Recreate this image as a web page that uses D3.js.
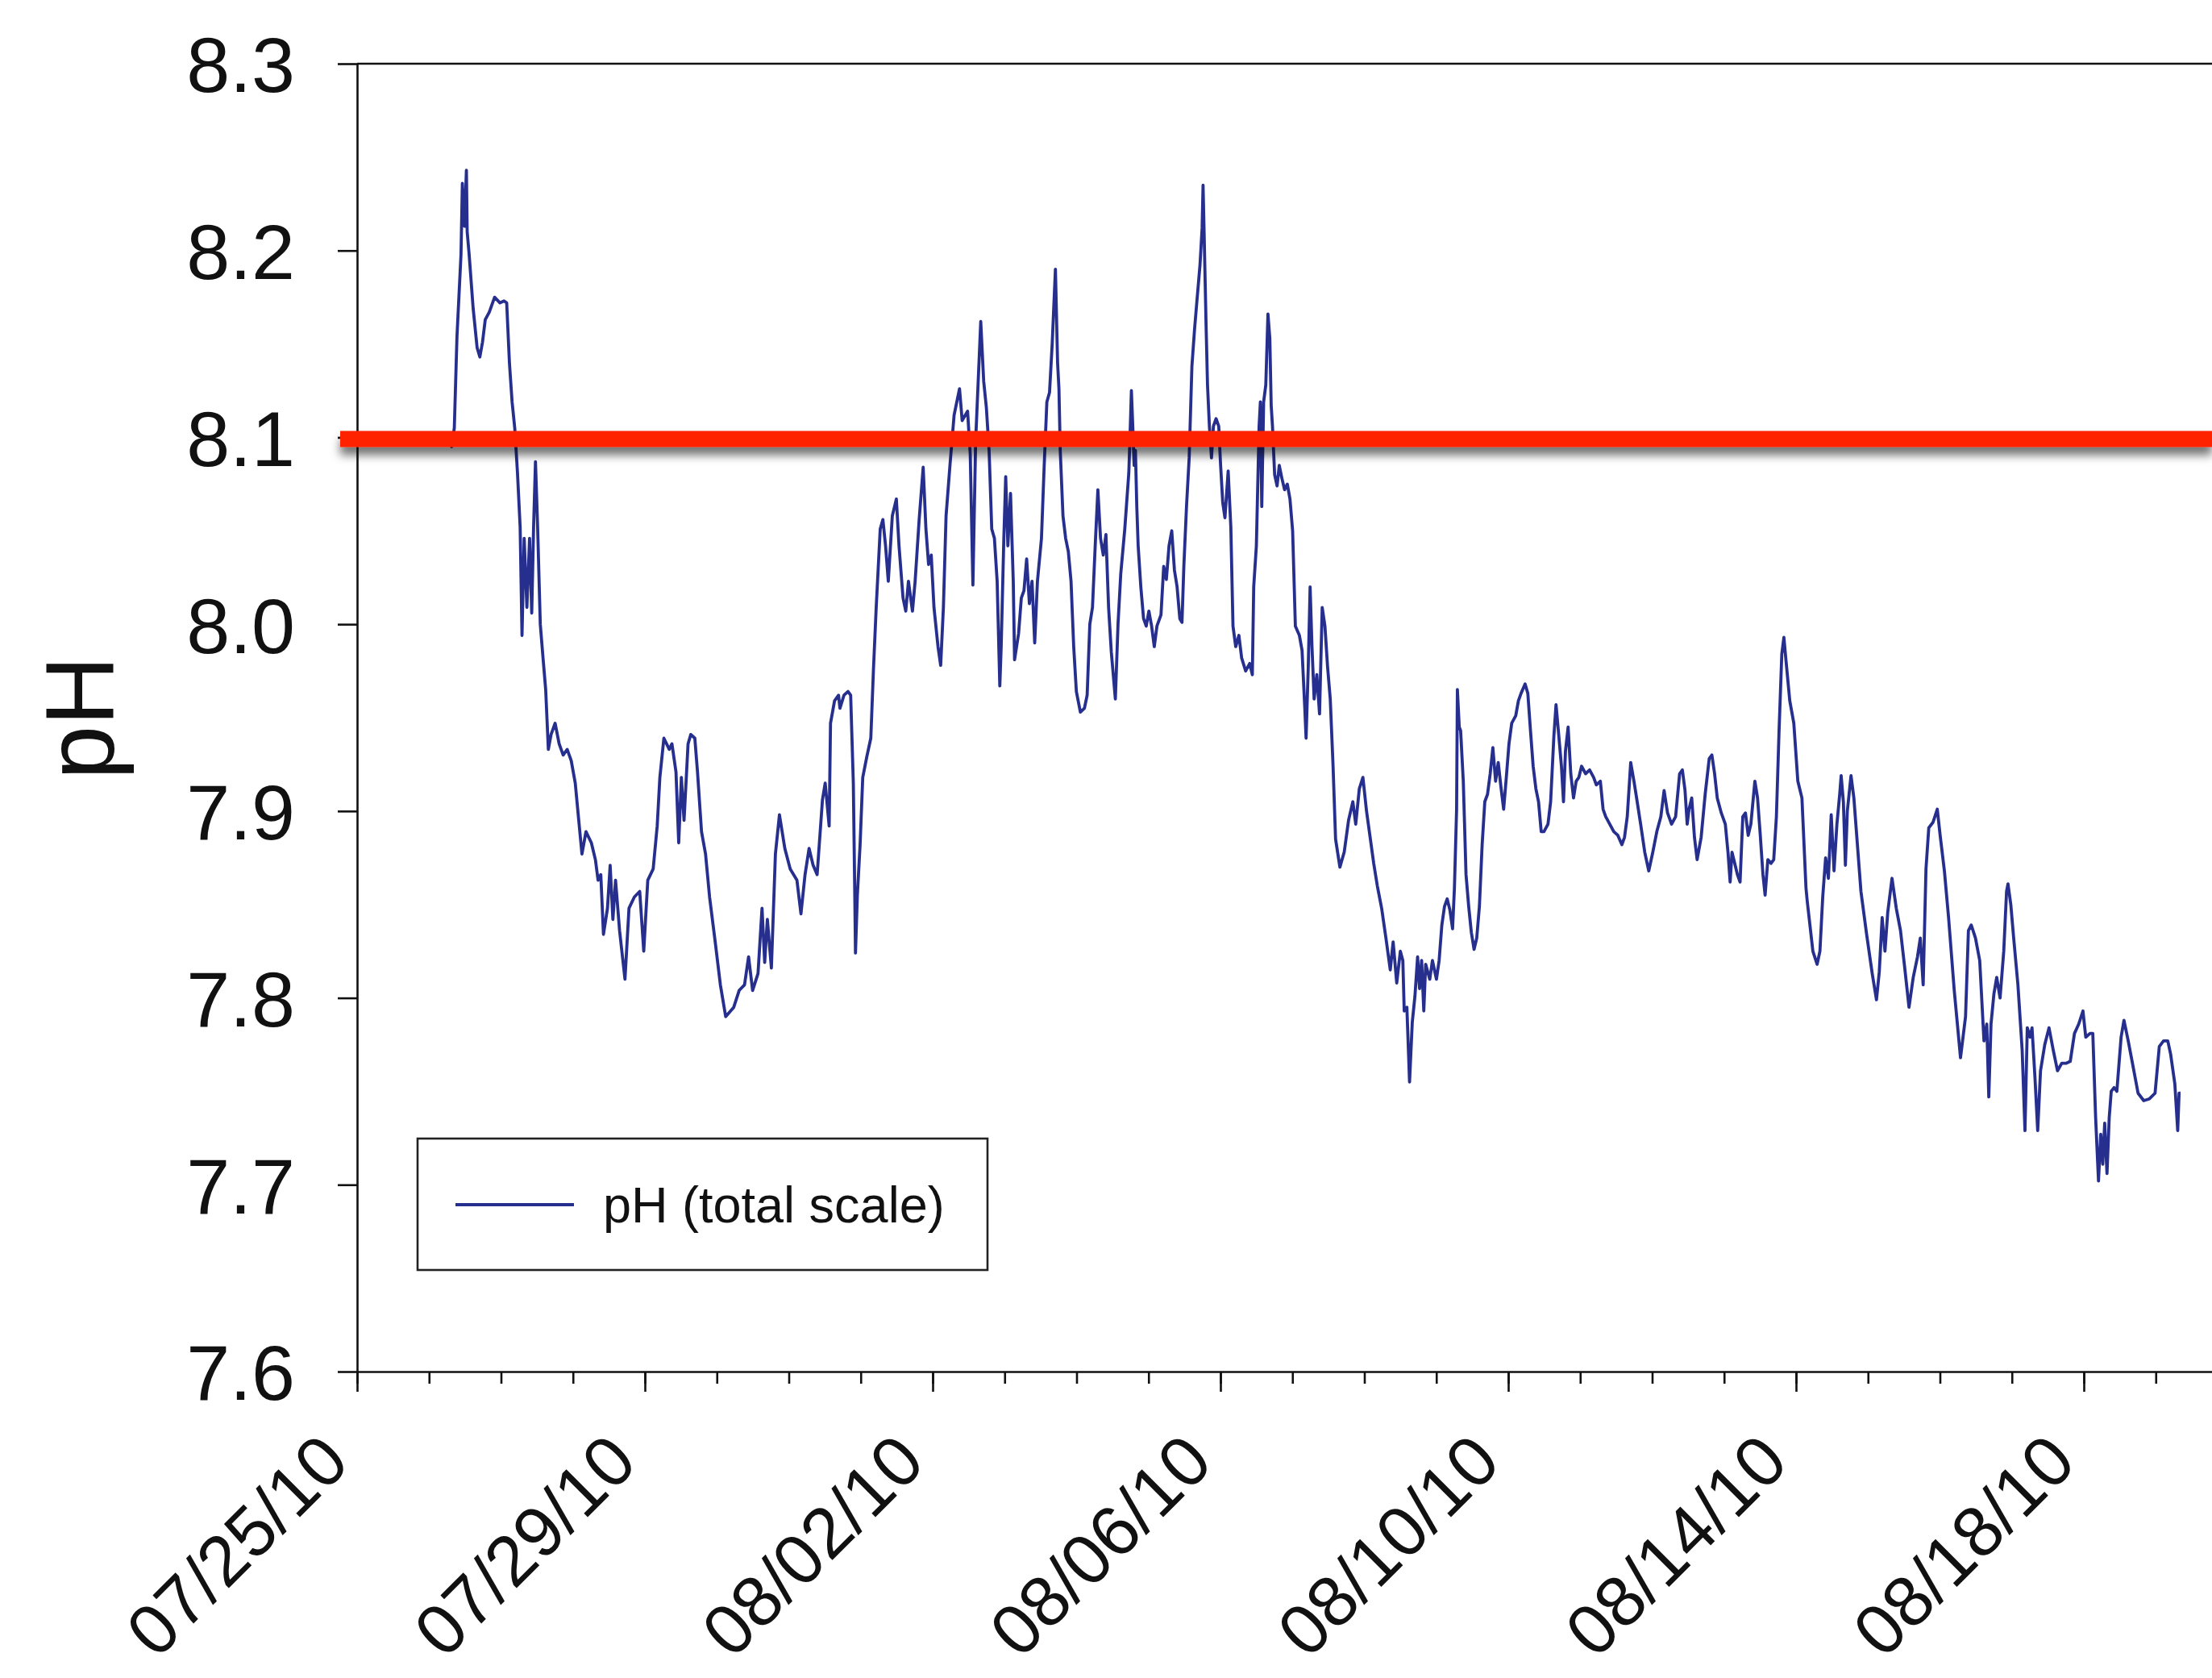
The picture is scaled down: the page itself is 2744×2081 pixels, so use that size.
<!DOCTYPE html>
<html>
<head>
<meta charset="utf-8">
<script src="https://cdn.jsdelivr.net/npm/d3@7"></script>
<style>
  html, body { margin: 0; padding: 0; background: #ffffff; }
  svg { display: block; font-family: "Liberation Sans", Arial, Helvetica, sans-serif; }
</style>
</head>
<body>
<svg id="chart" width="2744" height="2081"></svg>
<script>
// ---- data -------------------------------------------------------------
// Time axis: days after 07/25/2010 00:00 (UTC)
const startDate = Date.UTC(2010, 6, 25);
const axisEndDate = Date.UTC(2010, 7, 21);
const yTickValues = [7.6, 7.7, 7.8, 7.9, 8.0, 8.1, 8.2, 8.3];
const referencePH = 8.1;
const axisTitle = "pH";
const seriesLabel = "pH (total scale)";

// Sensor readings: offset in days and pH on the total scale
const dayOffsets = [
  1.258,1.314,1.351,1.388,1.444,1.463,1.493,1.519,1.530,1.557,
  1.613,1.668,1.706,1.743,1.781,1.837,1.911,1.986,2.042,2.079,
  2.117,2.154,2.191,2.229,2.266,2.292,2.322,2.360,2.397,2.427,
  2.453,2.479,2.509,2.546,2.584,2.621,2.658,2.696,2.752,2.808,
  2.864,2.920,2.976,3.032,3.088,3.125,3.181,3.256,3.312,3.349,
  3.387,3.424,3.480,3.517,3.555,3.592,3.648,3.723,3.779,3.853,
  3.928,3.984,4.040,4.115,4.171,4.208,4.264,4.339,4.376,4.432,
  4.470,4.507,4.544,4.600,4.638,4.694,4.731,4.787,4.843,4.899,
  4.974,5.049,5.123,5.235,5.310,5.385,5.441,5.497,5.572,5.628,
  5.665,5.702,5.758,5.814,5.870,5.945,6.020,6.113,6.169,6.226,
  6.282,6.338,6.394,6.468,6.506,6.561,6.580,6.636,6.692,
  6.711,6.767,6.823,6.860,6.897,6.916,6.927,6.953,6.991,7.028,
  7.084,7.140,7.177,7.215,7.271,7.308,7.345,7.383,7.439,7.495,
  7.532,7.588,7.626,7.663,7.719,7.756,7.812,7.868,7.906,7.943,
  7.980,8.018,8.074,8.111,8.149,8.186,8.242,8.298,8.373,8.410,
  8.485,8.522,8.559,8.597,8.668,8.709,8.746,8.784,8.821,8.858,
  8.896,8.933,8.952,8.989,9.015,9.045,9.082,9.120,9.138,9.194,
  9.232,9.269,9.306,9.344,9.381,9.418,9.456,9.512,9.549,9.587,
  9.624,9.661,9.706,9.736,9.755,9.773,9.811,9.848,9.885,9.923,
  9.960,9.997,10.053,10.109,10.147,10.184,10.221,10.259,10.296,10.333,
  10.371,10.408,10.445,10.483,10.539,10.576,10.614,10.670,10.726,
  10.744,10.762,10.781,10.800,10.818,10.837,10.856,10.893,10.931,10.968,
  11.005,11.043,11.080,11.117,11.173,11.211,11.248,11.285,11.323,11.360,
  11.397,11.435,11.465,11.491,11.528,11.565,11.603,11.640,11.677,11.715,
  11.745,11.758,11.778,11.800,11.820,11.846,11.875,11.902,11.939,11.976,
  12.002,12.032,12.062,12.107,12.144,12.174,12.212,12.256,12.294,12.350,
  12.406,12.443,12.462,12.499,12.537,12.555,12.574,12.600,12.630,12.660,
  12.686,12.705,12.723,12.753,12.787,12.817,12.854,12.891,12.929,12.966,
  13.003,13.041,13.097,13.134,13.171,13.190,13.220,13.246,13.272,13.302,
  13.339,13.377,13.414,13.452,13.489,13.526,13.564,
  13.600,13.660,13.720,13.780,13.840,13.880,13.930,13.980,14.030,14.080,
  14.130,14.180,14.240,14.300,14.360,14.400,14.450,14.500,
  14.535,14.554,14.591,14.628,14.666,14.703,14.740,14.767,14.796,14.826,
  14.852,14.909,14.946,15.002,15.039,15.077,15.114,15.151,15.189,15.226,
  15.252,15.282,15.293,15.319,15.338,15.375,15.413,15.450,15.487,15.525,
  15.562,15.599,15.637,15.674,15.712,15.749,15.786,15.824,15.861,15.898,
  15.936,15.973,16.010,16.048,16.104,16.141,16.178,16.234,16.272,16.309,
  16.346,16.384,16.421,16.458,16.496,16.552,16.589,16.634,16.664,16.701,
  16.739,16.768,16.795,16.832,16.869,16.907,16.944,16.981,17.019,17.075,
  17.131,17.187,17.224,17.280,17.318,17.355,17.411,17.467,17.523,17.579,
  17.616,17.654,17.702,17.747,17.784,17.840,17.897,17.953,18.009,18.065,
  18.121,18.166,18.214,18.270,18.326,18.382,18.420,18.457,18.487,18.513,
  18.550,18.588,18.625,18.681,18.737,18.793,18.830,18.868,18.905,18.961,
  19.017,19.054,19.084,19.110,19.148,19.185,19.222,19.260,19.297,19.335,
  19.372,19.428,19.465,19.503,19.540,19.570,19.608,19.652,19.690,19.727,
  19.764,19.802,19.831,19.857,19.913,19.969,20.025,20.082,20.138,
  20.155,20.234,20.293,20.332,20.371,20.411,20.450,20.489,20.528,20.568,
  20.607,20.627,20.658,20.686,20.713,20.764,20.804,20.843,20.902,20.981,
  21.059,21.118,21.157,21.197,21.236,21.275,21.334,21.393,21.452,21.511,
  21.570,21.629,21.688,21.727,21.767,21.806,21.845,21.904,21.963,22.003,
  22.062,22.120,22.199,22.286,22.356,22.396,22.435,22.494,22.553,22.612,
  22.651,22.679,22.710,22.750,22.789,22.836,22.887,22.926,22.946,22.985,
  23.025,23.084,23.143,23.182,23.214,23.253,23.280,23.320,23.359,23.398,
  23.457,23.516,23.575,23.634,23.693,23.752,23.811,23.870,23.929,23.988,
  24.027,24.086,24.125,24.164,24.204,24.235,24.263,24.290,24.322,24.353,
  24.381,24.420,24.459,24.518,24.558,24.617,24.676,24.754,24.833,24.912,
  24.990,25.049,25.108,25.167,25.206,25.265,25.305,25.324,25.344
];

const phValues = [
  8.103,8.095,8.105,8.154,8.198,8.236,8.213,8.243,8.210,8.198,
  8.169,8.148,8.143,8.151,8.163,8.167,8.175,8.172,8.173,8.172,
  8.140,8.119,8.105,8.081,8.052,7.994,8.046,8.009,8.046,8.006,
  8.052,8.087,8.052,8.000,7.982,7.965,7.933,7.941,7.947,7.936,
  7.930,7.933,7.927,7.915,7.892,7.877,7.889,7.883,7.874,7.863,
  7.866,7.834,7.848,7.871,7.842,7.863,7.836,7.810,7.848,7.854,
  7.857,7.825,7.863,7.869,7.892,7.918,7.939,7.933,7.936,7.921,
  7.883,7.918,7.895,7.936,7.941,7.939,7.921,7.889,7.877,7.854,
  7.831,7.807,7.790,7.795,7.804,7.807,7.822,7.804,7.813,7.848,
  7.819,7.842,7.816,7.877,7.898,7.880,7.869,7.863,7.845,7.866,
  7.880,7.871,7.866,7.906,7.915,7.892,7.947,7.959,7.962,
  7.955,7.962,7.964,7.962,7.915,7.859,7.824,7.855,7.882,7.918,
  7.929,7.939,7.976,8.009,8.051,8.056,8.042,8.023,8.058,8.067,
  8.042,8.014,8.007,8.023,8.007,8.023,8.056,8.084,8.051,8.032,
  8.037,8.009,7.988,7.978,8.009,8.058,8.086,8.112,8.126,8.109,
  8.114,8.091,8.021,8.098,8.162,8.130,8.116,8.093,8.051,8.046,
  8.023,7.967,7.988,8.046,8.079,8.042,8.070,8.023,7.981,7.995,
  8.014,8.018,8.035,8.011,8.023,7.990,8.023,8.046,8.084,8.119,
  8.124,8.150,8.190,8.140,8.126,8.093,8.058,8.046,8.039,8.023,
  7.988,7.964,7.953,7.955,7.962,8.000,8.009,8.042,8.072,8.046,
  8.037,8.048,8.009,7.985,7.960,8.000,8.027,8.051,8.081,
  8.102,8.125,8.106,8.085,8.093,8.063,8.042,8.020,8.003,7.999,
  8.007,7.999,7.988,7.999,8.005,8.031,8.024,8.042,8.050,8.029,
  8.020,8.003,8.001,8.031,8.063,8.089,8.138,8.158,8.175,8.192,
  8.212,8.235,8.200,8.160,8.128,8.106,8.089,8.106,8.110,8.106,
  8.085,8.065,8.057,8.082,8.052,7.999,7.988,7.994,7.982,7.975,
  7.979,7.973,8.020,8.042,8.106,8.119,8.063,8.119,8.128,8.166,
  8.153,8.117,8.106,8.080,8.074,8.085,8.078,8.072,8.075,8.067,
  8.050,7.999,7.994,7.986,7.956,7.939,7.977,8.020,7.988,7.960,
  7.973,7.952,8.009,7.999,7.977,7.960,7.925,
  7.885,7.870,7.878,7.895,7.905,7.893,7.912,7.918,7.900,7.886,
  7.872,7.860,7.848,7.832,7.815,7.830,7.808,7.825,
  7.820,7.793,7.795,7.755,7.787,7.801,7.822,7.805,7.820,7.793,
  7.818,7.810,7.820,7.810,7.820,7.839,7.849,7.853,7.847,7.837,
  7.859,7.901,7.965,7.945,7.943,7.916,7.866,7.849,7.835,7.826,
  7.832,7.849,7.882,7.905,7.909,7.920,7.934,7.916,7.926,7.913,
  7.901,7.918,7.936,7.947,7.951,7.959,7.963,7.968,7.963,7.943,
  7.924,7.912,7.905,7.889,7.889,7.893,7.905,7.940,7.957,7.941,
  7.924,7.905,7.932,7.945,7.920,7.907,7.916,7.918,7.924,7.920,
  7.922,7.918,7.914,7.916,7.901,7.897,7.893,7.889,7.887,7.882,
  7.886,7.897,7.926,7.916,7.907,7.893,7.878,7.868,7.878,7.889,
  7.897,7.911,7.899,7.893,7.897,7.920,7.922,7.911,7.893,7.901,
  7.907,7.886,7.874,7.886,7.909,7.928,7.930,7.920,7.907,7.899,
  7.893,7.878,7.862,7.878,7.872,7.866,7.862,7.897,7.899,7.887,
  7.893,7.916,7.907,7.887,7.866,7.855,7.874,7.872,7.874,7.897,
  7.943,7.984,7.993,7.982,7.959,7.947,7.916,7.907,7.859,
  7.852,7.825,7.818,7.825,7.854,7.875,7.864,7.898,7.868,7.893,
  7.909,7.919,7.905,7.871,7.900,7.919,7.907,7.887,7.857,7.834,
  7.813,7.799,7.814,7.843,7.825,7.846,7.864,7.848,7.836,7.816,
  7.795,7.811,7.822,7.832,7.807,7.869,7.891,7.894,7.901,7.887,
  7.868,7.843,7.804,7.768,7.790,7.836,7.839,7.832,7.820,7.777,
  7.786,7.747,7.786,7.802,7.811,7.800,7.825,7.857,7.861,7.850,
  7.832,7.807,7.772,7.729,7.784,7.779,7.784,7.758,7.729,7.761,
  7.775,7.784,7.772,7.761,7.765,7.765,7.766,7.781,7.786,7.793,
  7.779,7.781,7.781,7.736,7.702,7.727,7.711,7.733,7.706,7.736,
  7.750,7.752,7.750,7.779,7.788,7.777,7.765,7.749,7.745,7.746,
  7.749,7.774,7.777,7.777,7.770,7.754,7.729,7.749,7.749
];

// ---- layout -------------------------------------------------------------
const DAY_MS = 24 * 3600 * 1000;
const plot = { left: 443, top: 79, bottom: 1701, dayWidth: 89.25 };
const totalDays = (axisEndDate - startDate) / DAY_MS;

const svg = d3.select("#chart");
svg.append("rect").attr("width", 2744).attr("height", 2081).attr("fill", "#ffffff");

const x = d3.scaleUtc()
  .domain([new Date(startDate), new Date(axisEndDate)])
  .range([plot.left, plot.left + totalDays * plot.dayWidth]);

const y = d3.scaleLinear()
  .domain([d3.min(yTickValues), d3.max(yTickValues)])
  .range([plot.bottom, plot.top]);

const readings = dayOffsets.map((d, i) => ({
  date: new Date(startDate + d * DAY_MS),
  ph: phValues[i]
}));

// drop shadow for the reference line
const defs = svg.append("defs");
const shadow = defs.append("filter")
  .attr("id", "refShadow")
  .attr("x", "-2%").attr("y", "-100%")
  .attr("width", "104%").attr("height", "400%");
shadow.append("feDropShadow")
  .attr("dx", 0).attr("dy", 10)
  .attr("stdDeviation", 6)
  .attr("flood-color", "#000000")
  .attr("flood-opacity", 0.55);

// ---- axes ------------------------------------------------------------------
const majorTicks = d3.utcDay.range(new Date(startDate), new Date(axisEndDate + 1), 4);
const minorTicks = d3.utcDay.range(new Date(startDate), new Date(axisEndDate + 1), 1);
const fmt = d3.utcFormat("%m/%d/%y");

// top frame line
svg.append("line")
  .attr("x1", plot.left).attr("x2", x.range()[1])
  .attr("y1", y(d3.max(yTickValues))).attr("y2", y(d3.max(yTickValues)))
  .attr("stroke", "#111").attr("stroke-width", 2.6);

const minorAxis = svg.append("g")
  .attr("transform", `translate(0,${plot.bottom})`)
  .call(d3.axisBottom(x).tickValues(minorTicks).tickSize(15).tickSizeOuter(0).tickFormat(""));
minorAxis.select(".domain").remove();
minorAxis.selectAll(".tick line").attr("stroke", "#111").attr("stroke-width", 2.6);

const xAxis = svg.append("g")
  .attr("transform", `translate(0,${plot.bottom})`)
  .call(d3.axisBottom(x).tickValues(majorTicks).tickSize(25).tickSizeOuter(0).tickFormat(fmt));
xAxis.select(".domain").attr("stroke", "#111").attr("stroke-width", 2.6);
xAxis.selectAll(".tick line").attr("stroke", "#111").attr("stroke-width", 2.6);
xAxis.selectAll(".tick text")
  .attr("font-size", 88)
  .attr("fill", "#111")
  .attr("text-anchor", "end")
  .attr("x", 0).attr("y", 0).attr("dy", null)
  .attr("transform", "translate(-7,116) rotate(-45)");

const yAxis = svg.append("g")
  .attr("transform", `translate(${plot.left},0)`)
  .call(d3.axisLeft(y).tickValues(yTickValues).tickSize(24).tickSizeOuter(0).tickFormat(d3.format(".1f")));
yAxis.select(".domain").attr("stroke", "#111").attr("stroke-width", 2.6);
yAxis.selectAll(".tick line").attr("stroke", "#111").attr("stroke-width", 2.6);
yAxis.selectAll(".tick text")
  .attr("font-size", 97)
  .attr("fill", "#111")
  .attr("x", -77)
  .attr("dy", "0.36em");

svg.append("text")
  .attr("transform", `translate(141,${(plot.top + plot.bottom) / 2}) rotate(-90)`)
  .attr("text-anchor", "middle")
  .attr("font-size", 120)
  .attr("fill", "#111")
  .text(axisTitle);

// ---- series ---------------------------------------------------------------
const line = d3.line()
  .x(d => x(d.date))
  .y(d => y(d.ph));

svg.append("path")
  .datum(readings)
  .attr("fill", "none")
  .attr("stroke", "#262e8e")
  .attr("stroke-width", 3.8)
  .attr("stroke-linejoin", "round")
  .attr("d", line);

// reference pH level
svg.append("rect")
  .attr("x", plot.left - 21)
  .attr("y", y(referencePH) + 2 - 10)
  .attr("width", 2744 - (plot.left - 21))
  .attr("height", 20)
  .attr("fill", "#ff2200")
  .attr("filter", "url(#refShadow)");

// ---- legend ---------------------------------------------------------------
const legend = svg.append("g").attr("transform", "translate(518,1412)");
legend.append("rect")
  .attr("width", 707).attr("height", 163)
  .attr("fill", "#ffffff")
  .attr("stroke", "#222").attr("stroke-width", 2.6);
legend.append("line")
  .attr("x1", 47).attr("x2", 194)
  .attr("y1", 82).attr("y2", 82)
  .attr("stroke", "#262e8e").attr("stroke-width", 3.8);
legend.append("text")
  .attr("x", 230).attr("y", 104)
  .attr("font-size", 63)
  .attr("fill", "#111")
  .text(seriesLabel);
</script>
</body>
</html>
